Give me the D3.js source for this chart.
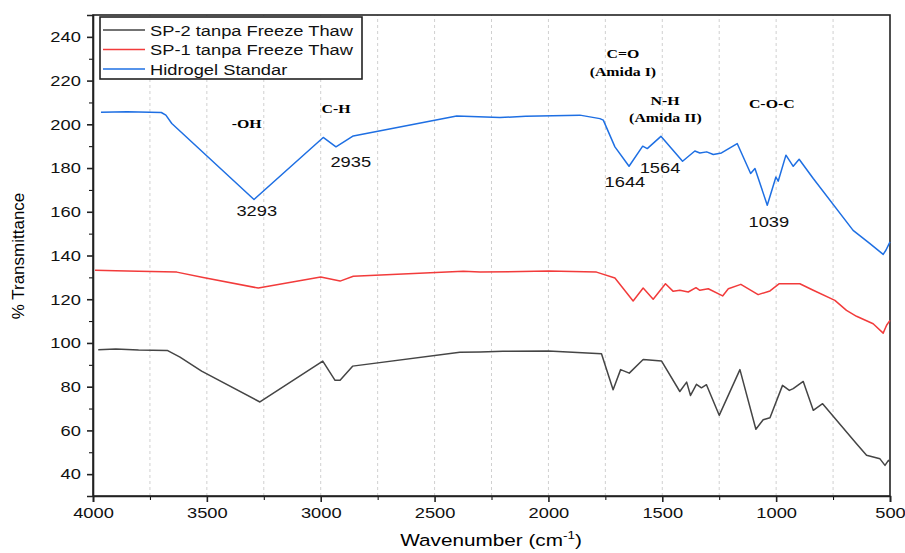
<!DOCTYPE html>
<html>
<head>
<meta charset="utf-8">
<script src="https://cdn.jsdelivr.net/npm/d3@7"></script>
<style>
body { margin: 0; background: #fff; }
svg { font-family: "Liberation Sans", Arial, sans-serif; }
</style>
</head>
<body>
<div id="chart"></div>
<script>
// wavenumber / %T pairs
let sp2 = [[3977,96.9],[3900,97.2],[3800,96.8],[3674,96.6],[3618,93.5],[3523,87.1],[3267,73.0],[2991,91.7],[2937,82.9],[2915,82.9],[2860,89.4],[2389,95.8],[2300,95.9],[2200,96.2],[2000,96.3],[1767,95.1],[1716,78.6],[1683,87.8],[1645,86.2],[1584,92.4],[1503,91.7],[1423,77.8],[1393,82.1],[1376,76.0],[1350,81.1],[1328,79.5],[1306,80.9],[1250,66.9],[1159,87.8],[1089,60.5],[1057,64.9],[1027,65.8],[972,80.6],[942,78.3],[925,79.1],[881,82.4],[837,69.2],[796,72.2],[647,53.9],[603,48.6],[544,47.0],[522,44.0],[507,46.3],[500,46.0]];
let sp1 = [[3991,133.2],[3900,133.0],[3800,132.8],[3632,132.4],[3516,129.9],[3274,125.1],[3000,130.2],[2915,128.3],[2857,130.5],[2374,132.8],[2300,132.4],[2000,132.9],[1789,132.4],[1708,129.7],[1628,119.2],[1584,125.1],[1540,120.0],[1486,127.1],[1452,123.6],[1423,124.1],[1386,123.3],[1352,125.3],[1335,124.1],[1298,124.8],[1235,121.5],[1210,124.8],[1155,126.8],[1079,122.1],[1027,123.8],[986,127.1],[896,127.1],[837,124.1],[742,119.5],[691,114.9],[647,112.2],[574,108.8],[530,104.5],[515,108.1],[500,110.3]];
let hidrogel = [[3965,205.5],[3850,205.7],[3700,205.4],[3680,204.2],[3654,200.4],[3293,165.6],[2989,194.0],[2933,189.7],[2857,194.7],[2403,203.8],[2213,203.1],[2100,203.7],[1862,204.2],[1774,202.6],[1759,201.9],[1708,189.7],[1646,180.8],[1586,190.0],[1566,188.9],[1506,194.5],[1411,183.1],[1357,187.8],[1335,186.9],[1305,187.4],[1276,186.2],[1240,186.9],[1171,191.2],[1112,177.5],[1093,179.8],[1039,163.0],[1001,175.9],[991,174.0],[957,185.9],[925,180.8],[899,184.0],[837,175.2],[662,151.5],[588,145.4],[530,140.5],[518,142.4],[500,146.2]];

let seriesNames = ["SP-2 tanpa Freeze Thaw","SP-1 tanpa Freeze Thaw","Hidrogel Standar"];
let seriesColors = ["#454545","#f23b3b","#1e6fe3"];
let xTicks = [4000,3500,3000,2500,2000,1500,1000,500];
let yTicks = [40,60,80,100,120,140,160,180,200,220,240];

// band labels: [text, wavenumber, value]
let groups = [["-OH",3325,198.3],["C-H",2933,205.2],["C=O",1673,230.4],["(Amida I)",1673,222.2],["N-H",1488,208.9],["(Amida II)",1486,201.1],["C-O-C",1019,207.5]];
let peaks = [["3293",3281,158.1],["2935",2868,180.5],["1644",1664,171.5],["1564",1510,177.9],["1039",1032,153.1]];

let W = 905, H = 553;
let m = {left: 93, right: 15, top: 15, bottom: 57};
let sx = 1.22; // the original figure's lettering is stretched sideways

let svg = d3.select("#chart").append("svg")
    .attr("width", W)
    .attr("height", H);

let x = d3.scaleLinear().domain([4000,500]).range([m.left, W - m.right]);
let y = d3.scaleLinear().domain([30,250]).range([H - m.bottom, m.top]);

function wideText(px, py, str) {
    return svg.append("text")
        .attr("transform", `translate(${px},${py}) scale(${sx},1)`)
        .text(str);
}

// dashed vertical grid
let gridVals = d3.range(3750, 500, -250);
svg.append("g").selectAll("line").data(gridVals).join("line")
    .attr("x1", d => x(d)).attr("x2", d => x(d))
    .attr("y1", y(30)).attr("y2", y(250))
    .attr("stroke", "#d0d0d0")
    .attr("stroke-dasharray", "3,3");

// minor ticks
svg.append("g")
    .attr("transform", `translate(0,${y(30)})`)
    .call(d3.axisBottom(x).tickValues(d3.range(3750, 500, -500)).tickSize(4).tickFormat(""))
    .call(g => g.select(".domain").remove());
svg.append("g")
    .attr("transform", `translate(${m.left},0)`)
    .call(d3.axisLeft(y).tickValues(d3.range(30, 251, 20)).tickSize(4).tickFormat(""))
    .call(g => g.select(".domain").remove());

let xAxis = svg.append("g")
    .attr("transform", `translate(0,${y(30)})`)
    .call(d3.axisBottom(x).tickValues(xTicks).tickSize(6).tickPadding(5).tickFormat(d3.format("d")));
let yAxis = svg.append("g")
    .attr("transform", `translate(${m.left},0)`)
    .call(d3.axisLeft(y).tickValues(yTicks).tickSize(6).tickPadding(4));
[xAxis, yAxis].forEach(a => {
    a.attr("font-family", null);
    a.selectAll("text").attr("font-size", 15).attr("fill", "#111")
        .attr("transform", `scale(${sx},1)`);
    a.selectAll("line,path").attr("stroke", "#222").attr("stroke-width", 1.6);
});

// frame
svg.append("rect")
    .attr("x", x(4000)).attr("y", y(250))
    .attr("width", x(500) - x(4000)).attr("height", y(30) - y(250))
    .attr("fill", "none").attr("stroke", "#222").attr("stroke-width", 1.6);

let line = d3.line()
    .x(d => x(d[0]))
    .y(d => y(d[1]));

[sp2, sp1, hidrogel].forEach((s, i) => {
    svg.append("path")
        .datum(s)
        .attr("d", line)
        .attr("fill", "none")
        .attr("stroke", seriesColors[i])
        .attr("stroke-width", 1.5)
        .attr("stroke-linejoin", "round");
});

// labels
groups.forEach(g => {
    wideText(x(g[1]), y(g[2]), g[0])
        .attr("text-anchor", "middle")
        .style("font-family", "'Liberation Serif', 'Times New Roman', serif")
        .attr("font-weight", "bold")
        .attr("font-size", 13);
});
peaks.forEach(p => {
    wideText(x(p[1]), y(p[2]), p[0])
        .attr("text-anchor", "middle")
        .attr("font-size", 15)
        .attr("fill", "#111");
});

// legend
svg.append("rect")
    .attr("x", 100).attr("y", 17)
    .attr("width", 262).attr("height", 62)
    .attr("fill", "#fff").attr("stroke", "#222").attr("stroke-width", 1.6);
seriesNames.forEach((n, i) => {
    let yy = 30 + i * 19.5;
    svg.append("line")
        .attr("x1", 103).attr("x2", 145).attr("y1", yy).attr("y2", yy)
        .attr("stroke", seriesColors[i]).attr("stroke-width", 1.5);
    wideText(150, yy + 5.5, n)
        .attr("font-size", 15).attr("fill", "#111");
});

// axis titles
svg.append("text")
    .attr("transform", "translate(24,256) rotate(-90)")
    .attr("text-anchor", "middle")
    .attr("font-size", 17)
    .text("% Transmittance");
let xt = wideText(491, 546, "Wavenumber (cm")
    .attr("text-anchor", "middle")
    .attr("font-size", 17);
xt.append("tspan").attr("dy", -7).attr("font-size", 11).text("-1");
xt.append("tspan").attr("dy", 7).text(")");
</script>
</body>
</html>
